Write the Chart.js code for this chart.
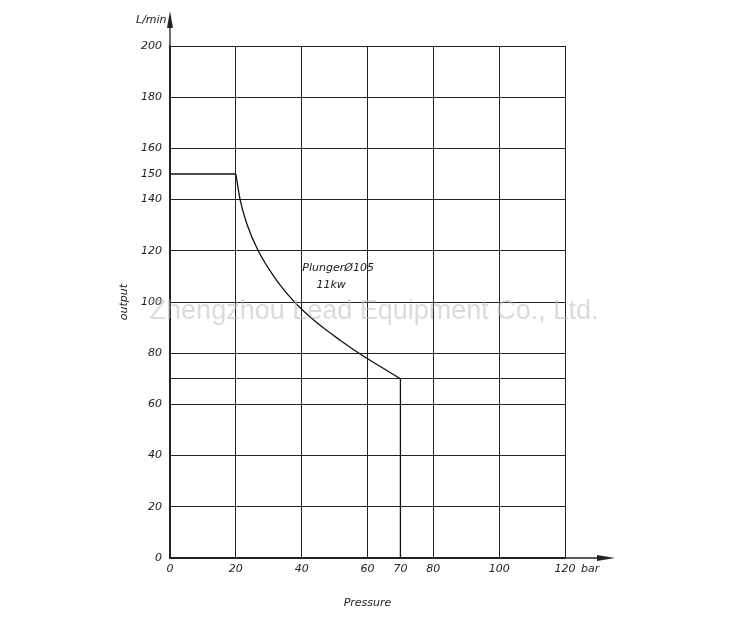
<!DOCTYPE html>
<html lang="en">
<head>
  <meta charset="UTF-8" />
  <title>Plunger output vs pressure</title>
  <script src="https://cdn.jsdelivr.net/npm/chart.js"></script>
  <style>
    * { margin: 0; padding: 0; box-sizing: border-box; }
    body { background: #fff; width: 750px; height: 623px; overflow: hidden; }
    canvas { display: block; }
  </style>
</head>
<body>
  <canvas id="pump-chart" width="750" height="623"></canvas>
  <script>
// Values
const xTicks = [0, 20, 40, 60, 70, 80, 100, 120];
const yTicks = [0, 20, 40, 60, 70, 80, 100, 120, 140, 150, 160, 180, 200];

// flat part at max flow
const flatPressure = [0, 20];
const flatOutput = [150, 150];

// falling part (constant power region)
const curvePressure = [20, 21.3, 23.5, 26.8, 31.8, 36, 40, 46, 52, 58, 64, 70];
const curveOutput = [150, 140, 130, 120, 109.5, 102.6, 97.2, 90.5, 84.8, 79.5, 74.7, 70];

// drop at max pressure
const dropPressure = [70, 70];
const dropOutput = [70, 0];

const ink = '#222';
const tickFont = { family: 'DejaVu Sans', size: 11, style: 'italic' };

const toPoints = (xs, ys) => xs.map((x, i) => ({ x: x, y: ys[i] }));

// arrows, unit labels, annotation and watermark
const decorPlugin = {
  id: 'decor',
  afterDraw(chart) {
    const ctx = chart.ctx;
    const x = chart.scales.x, y = chart.scales.y;
    const x0 = x.getPixelForValue(0), y0 = y.getPixelForValue(0);
    const xEnd = x.getPixelForValue(120), yTop = y.getPixelForValue(200);
    ctx.save();
    ctx.strokeStyle = ink;
    ctx.fillStyle = ink;
    ctx.lineWidth = 1.3;
    // y axis arrow
    ctx.beginPath();
    ctx.moveTo(x0, yTop);
    ctx.lineTo(x0, 26);
    ctx.stroke();
    ctx.beginPath();
    ctx.moveTo(x0, 11);
    ctx.lineTo(x0 - 3, 28);
    ctx.lineTo(x0 + 3, 28);
    ctx.closePath();
    ctx.fill();
    // x axis arrow
    ctx.beginPath();
    ctx.moveTo(xEnd, y0);
    ctx.lineTo(600, y0);
    ctx.stroke();
    ctx.beginPath();
    ctx.moveTo(615, y0);
    ctx.lineTo(597, y0 - 3);
    ctx.lineTo(597, y0 + 3);
    ctx.closePath();
    ctx.fill();

    ctx.font = 'italic 11px "DejaVu Sans"';
    ctx.textBaseline = 'middle';
    ctx.textAlign = 'left';
    ctx.fillText('L/min', 136, 20);
    ctx.fillText('bar', 581, 569);

    // curve annotation
    ctx.fillText('Plunger\u00d8105', x.getPixelForValue(40.2), y.getPixelForValue(113.3));
    ctx.fillText('11kw', x.getPixelForValue(44.5), y.getPixelForValue(106.6));

    // watermark
    ctx.font = '27px "Liberation Sans"';
    ctx.textAlign = 'center';
    ctx.fillStyle = 'rgba(190, 190, 190, 0.55)';
    ctx.fillText('Zhengzhou Lead Equipment Co., Ltd.', 374, 312);
    ctx.restore();
  }
};

const lineStyle = {
  borderColor: '#111',
  borderWidth: 1.3,
  pointRadius: 0,
  fill: false
};

new Chart(document.getElementById('pump-chart'), {
  type: 'line',
  data: {
    datasets: [
      Object.assign({ data: toPoints(flatPressure, flatOutput) }, lineStyle),
      Object.assign({ data: toPoints(curvePressure, curveOutput), cubicInterpolationMode: 'monotone' }, lineStyle),
      Object.assign({ data: toPoints(dropPressure, dropOutput) }, lineStyle)
    ]
  },
  options: {
    responsive: false,
    animation: false,
    layout: { padding: { left: 0, top: 46, right: 185, bottom: 0 } },
    plugins: {
      legend: { display: false },
      tooltip: { enabled: false }
    },
    scales: {
      x: {
        type: 'linear',
        min: 0,
        max: 120,
        afterBuildTicks: s => { s.ticks = xTicks.map(v => ({ value: v })); },
        afterFit: s => { s.height = 65; },
        ticks: { color: ink, font: tickFont, padding: 5, maxRotation: 0, autoSkip: false },
        grid: {
          color: c => (c.tick && c.tick.value === 70 ? 'rgba(0,0,0,0)' : ink),
          lineWidth: 1,
          drawTicks: false
        },
        border: { color: ink, width: 1.3 },
        title: {
          display: true,
          text: 'Pressure',
          color: ink,
          font: tickFont,
          padding: { top: 0, bottom: 13 }
        }
      },
      y: {
        type: 'linear',
        min: 0,
        max: 200,
        afterBuildTicks: s => { s.ticks = yTicks.map(v => ({ value: v })); },
        afterFit: s => { s.width = 170; },
        ticks: {
          color: ink,
          font: tickFont,
          padding: 8,
          autoSkip: false,
          callback: v => (v === 70 ? '' : v)
        },
        grid: {
          color: c => (c.tick && c.tick.value === 150 ? 'rgba(0,0,0,0)' : ink),
          lineWidth: 1,
          drawTicks: false
        },
        border: { color: ink, width: 1.3 },
        title: {
          display: true,
          text: 'output',
          color: ink,
          font: tickFont,
          padding: { top: 118, bottom: 0 }
        }
      }
    }
  },
  plugins: [decorPlugin]
});
  </script>
</body>
</html>
